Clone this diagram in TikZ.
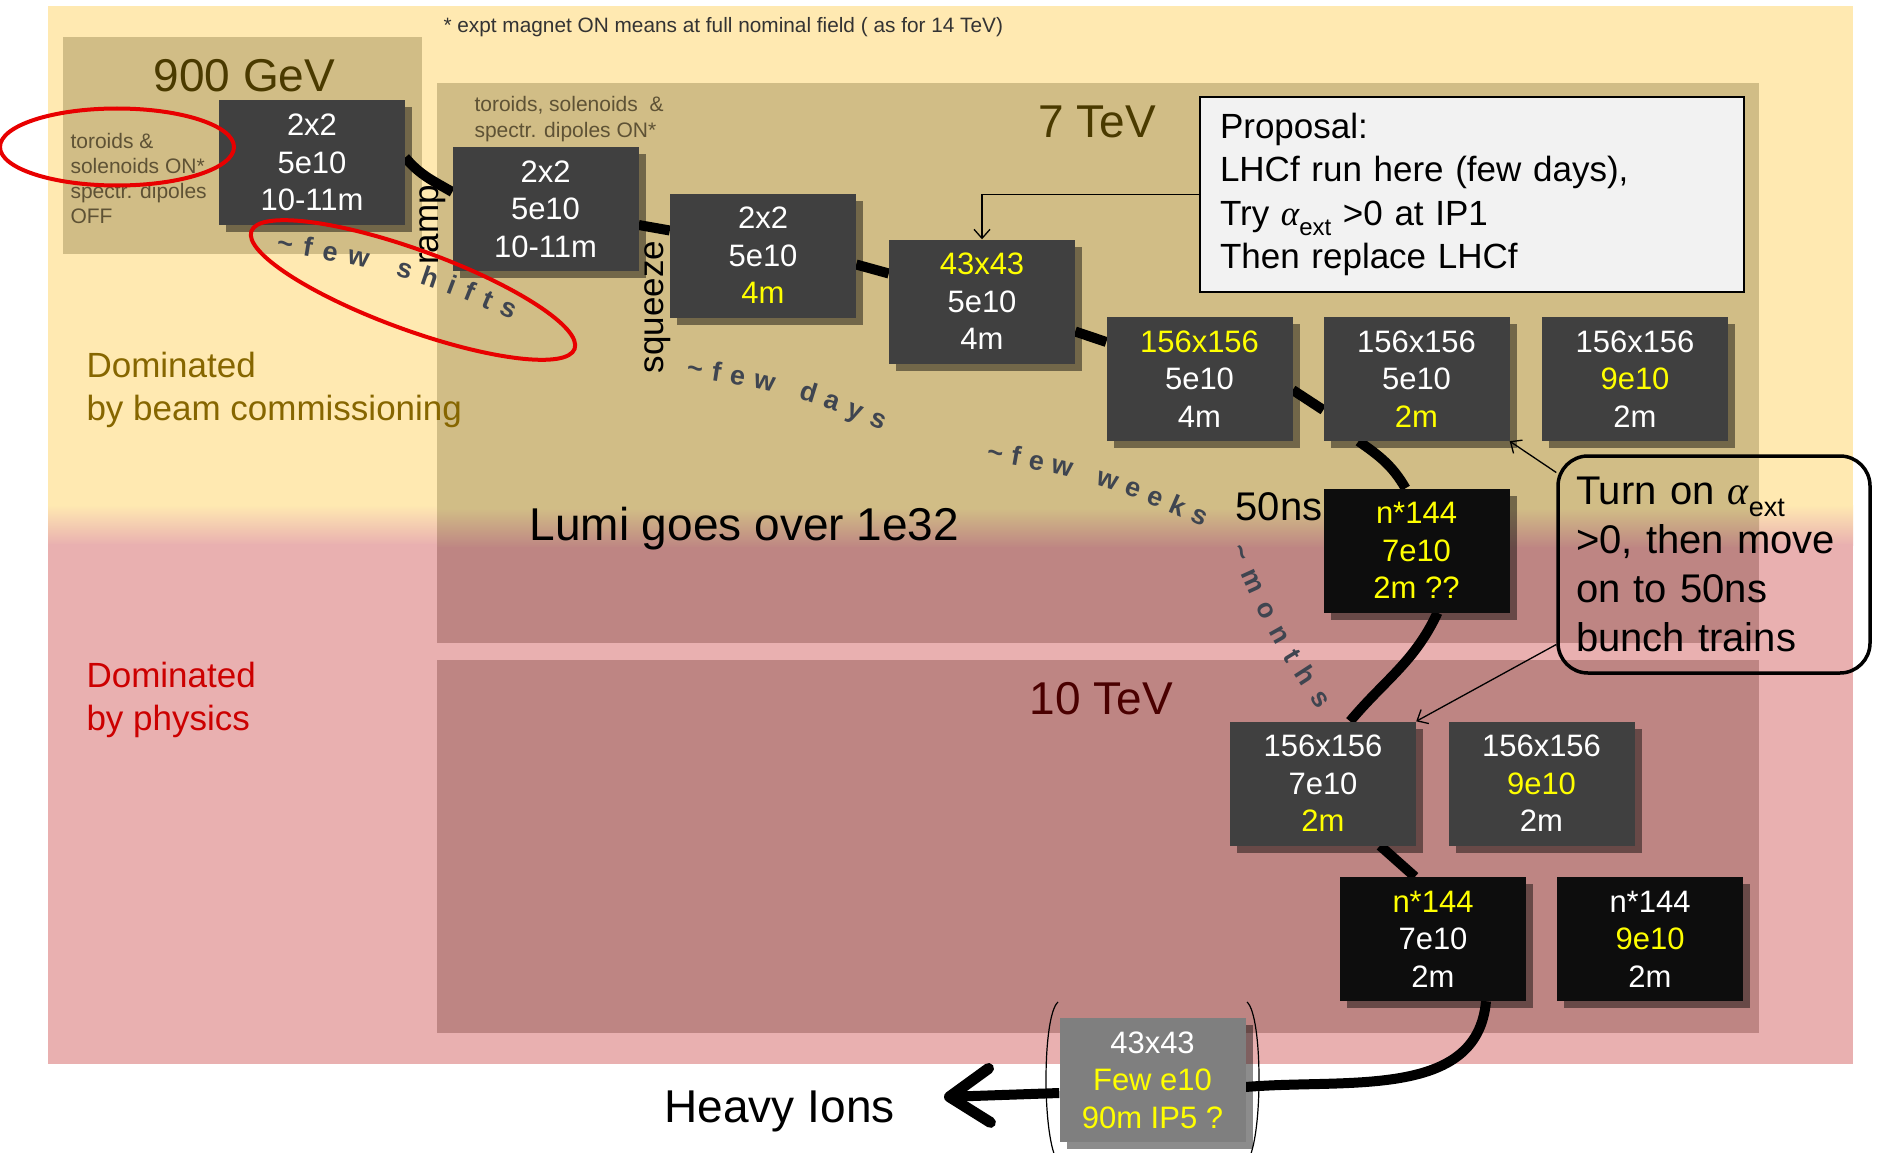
\documentclass[tikz,border=0pt]{standalone}
\usepackage{fontspec}
\setmainfont{Liberation Sans}
\newfontfamily\greekserif{Liberation Serif}
\usepackage{xcolor}
\usepackage{tikz}
\usetikzlibrary{arrows.meta}
\usetikzlibrary{shadows}
\usetikzlibrary{decorations.text}

\definecolor{paleyellow}{HTML}{FFE9B1}
\definecolor{panelTan}{HTML}{D1BD86}
\definecolor{palepink}{HTML}{E9B0B0}
\definecolor{panelRose}{HTML}{BE8583}
\definecolor{boxgrey}{HTML}{404040}
\definecolor{boxblack}{HTML}{0D0D0D}
\definecolor{ionsgrey}{HTML}{7F7F7F}
\definecolor{hiyellow}{HTML}{FFFF00}
\definecolor{propfill}{HTML}{F2F2F2}
\definecolor{darkbrown}{HTML}{4A3A00}
\definecolor{darkmaroon}{HTML}{4A0000}
\definecolor{beamolive}{HTML}{866600}
\definecolor{physred}{HTML}{CC0000}
\definecolor{magnetclr}{HTML}{5E5235}
\definecolor{arctext}{HTML}{3F4550}
\definecolor{ringred}{HTML}{E80000}

\pgfdeclarelayer{back}
\pgfdeclarelayer{mid}
\pgfsetlayers{back,mid,main}

\newcommand{\fs}[2]{\fontsize{#1}{#2}\selectfont}
\newcommand{\yl}[1]{\textcolor{hiyellow}{#1}}
\newcommand{\arcfont}{\fs{27}{27}\bfseries}
\newcommand{\alphaext}[1]{{\greekserif\itshape α}\raisebox{-0.3em}{\fs{#1}{#1}ext}}

\begin{document}
\begin{tikzpicture}[
    x=1pt, y=1pt,
    stage/.style={rectangle, fill=boxgrey, text=white, minimum width=186pt,
        minimum height=124pt, inner sep=0pt, align=center, font=\fs{31}{37.5},
        drop shadow={shadow xshift=7pt, shadow yshift=-7pt, opacity=.45, fill=black}},
    stage black/.style={stage, fill=boxblack},
    stage ions/.style={stage, fill=ionsgrey},
    energy/.style={anchor=base west, font=\fs{46}{50}},
    magnets/.style={anchor=base west, align=left, text=magnetclr, font=\fs{21}{25}},
    regime/.style={anchor=base west, align=left, font=\fs{35}{43}},
    phaselabel/.style={rotate=90, font=\fs{35}{40}},
    proposalbox/.style={draw, line width=1.5pt, fill=propfill, text width=504pt,
        inner xsep=20pt, minimum height=195pt, align=left, font=\fs{35}{43.5}},
    turnbox/.style={draw, line width=3.5pt, rounded corners=30pt, text width=276pt,
        inner xsep=18pt, minimum height=217pt, align=left, font=\fs{40}{49}},
    conn/.style={line width=10pt},
    pointer/.style={line width=1.3pt, -{Straight Barb[length=9pt,width=16pt]}},
    ring/.style={draw=ringred, line width=4pt},
    timescale/.style={decorate, decoration={text along path, text align=fit to path,
        text color=arctext, text={|\arcfont|#1}}},
]
\useasboundingbox (0,0) rectangle (1878,-1153);

\begin{pgfonlayer}{back}
\fill[paleyellow] (48,-6) rectangle (1853,-506);
\shade[top color=paleyellow, bottom color=palepink] (48,-505) rectangle (1853,-545);
\fill[palepink] (48,-544) rectangle (1853,-1064);
\fill[panelTan] (63,-37) rectangle (422,-254);
\fill[panelTan] (437,-83) rectangle (1759,-509);
\shade[top color=panelTan, bottom color=panelRose] (437,-508) rectangle (1759,-548);
\fill[panelRose] (437,-547) rectangle (1759,-643);
\fill[panelRose] (437,-660) rectangle (1759,-1033);
\end{pgfonlayer}

\node[anchor=base west, text=black!80, font=\fs{20.8}{24}] (footnote) at (440,-33)
    {* expt magnet ON means at full nominal field ( as for 14 TeV)};
\node[energy, text=darkbrown] (gev900) at (150,-92) {900 GeV};
\node[energy, text=darkbrown] (tev7) at (1035,-138) {7 TeV};
\node[energy, text=darkmaroon] (tev10) at (1026,-714) {10 TeV};
\node[magnets] (mag900) at (67,-223) {toroids \&\\solenoids ON*\\spectr. dipoles\\OFF};
\node[magnets] (mag7) at (471,-137) {toroids, solenoids~~\&\\spectr. dipoles ON*};
\node[regime, text=beamolive] (commish) at (83,-420) {Dominated\\by beam commissioning};
\node[regime, text=physred] (physics) at (83,-730) {Dominated\\by physics};
\node[energy] (lumi) at (526,-540) {Lumi goes over 1e32};
\node[anchor=base west, font=\fs{40}{44}] (ns50) at (1232,-520) {50ns};
\node[energy] (ions) at (661,-1122) {Heavy Ions};
\node[phaselabel] (ramp) at (433,-225) {ramp};
\node[phaselabel] (squeeze) at (658,-307) {squeeze};

\node[stage] (s1) at (312,-162.5) {2x2\\5e10\\10-11m};
\node[stage] (s2) at (545.5,-209) {2x2\\5e10\\10-11m};
\node[stage] (s3) at (763,-255.5) {2x2\\5e10\\\yl{4m}};
\node[stage] (s4) at (982,-301.5) {\yl{43x43}\\5e10\\4m};
\node[stage] (s5) at (1199.5,-379) {\yl{156x156}\\5e10\\4m};
\node[stage] (s6) at (1416.5,-379) {156x156\\5e10\\\yl{2m}};
\node[stage] (s7) at (1635,-379) {156x156\\\yl{9e10}\\2m};
\node[stage black] (s8) at (1416.5,-550.5) {\yl{n*144}\\\yl{7e10}\\\yl{2m ??}};
\node[stage] (s9) at (1323,-783.5) {156x156\\7e10\\\yl{2m}};
\node[stage] (s10) at (1541.5,-783.5) {156x156\\\yl{9e10}\\2m};
\node[stage black] (s11) at (1433,-939) {\yl{n*144}\\7e10\\2m};
\node[stage black] (s12) at (1650,-939) {n*144\\\yl{9e10}\\2m};
\node[stage ions] (s13) at (1152.5,-1080) {43x43\\\yl{Few e10}\\\yl{90m IP5 ?}};
\coordinate (ionTip) at (944,-1097);

\node[proposalbox] (prop) at (1472,-194.5)
    {Proposal:\\LHCf run here (few days),\\Try \alphaext{24} >0 at IP1\\Then replace LHCf};
\node[turnbox] (turn) at (1714,-564.5)
    {Turn on \alphaext{27}\\>0, then move\\on to 50ns\\bunch trains};

\begin{pgfonlayer}{mid}
\draw[conn] ([yshift=5pt]s1.east) to[out=-50, in=150] ([yshift=17pt]s2.west);
\draw[conn] ([yshift=-16pt]s2.east) -- ([yshift=25pt]s3.west);
\draw[conn] ([yshift=-9pt]s3.east) -- ([yshift=28pt]s4.west);
\draw[conn] ([yshift=-30pt]s4.east) -- ([yshift=37pt]s5.west);
\draw[conn] ([yshift=-11pt]s5.east) -- ([yshift=-31pt]s6.west);
\draw[conn] ([xshift=-58pt]s6.south) to[out=-35, in=120] ([xshift=-11pt]s8.north);
\draw[conn] ([xshift=21pt]s8.south) to[out=-115, in=50] ([xshift=27pt]s9.north);
\draw[conn] ([xshift=57pt]s9.south) -- ([xshift=-18pt]s11.north);
\draw[conn] ([xshift=53pt]s11.south) to[out=-95, in=5] ([yshift=-7pt]s13.east);
\draw[conn, -{Straight Barb[length=40pt,width=54pt,line width=11pt,round]}]
    ([yshift=-13pt]s13.west) -- (ionTip);
\end{pgfonlayer}

\draw[pointer] (prop.west) -| (s4.north);
\draw[pointer] ([yshift=92pt]turn.west) -- (s6.south east);
\draw[pointer] ([yshift=-80pt]turn.west) -- (s9.north east);

\draw[line width=1.2pt] (1058,-1002) .. controls (1042,-1016) and (1042,-1140) .. (1058,-1162);
\draw[line width=1.2pt] (1247,-1002) .. controls (1263,-1016) and (1263,-1140) .. (1247,-1162);

\path[timescale={{\textasciitilde}few shifts}] (276,-252) to[bend left=8] (512,-320);
\path[timescale={{\textasciitilde}few days}] (686,-377) to[bend left=8] (882,-430);
\path[timescale={{\textasciitilde}few weeks}] (986,-461) to[bend left=8] (1203,-527);
\path[timescale={{\textasciitilde}months}] (1230,-548) to[bend right=6] (1318,-710);

\draw[ring] (117,-147) ellipse [x radius=117, y radius=38.5];
\draw[ring, rotate around={-20:(413,-290)}] (413,-290) ellipse [x radius=172, y radius=40];

\end{tikzpicture}
\end{document}
